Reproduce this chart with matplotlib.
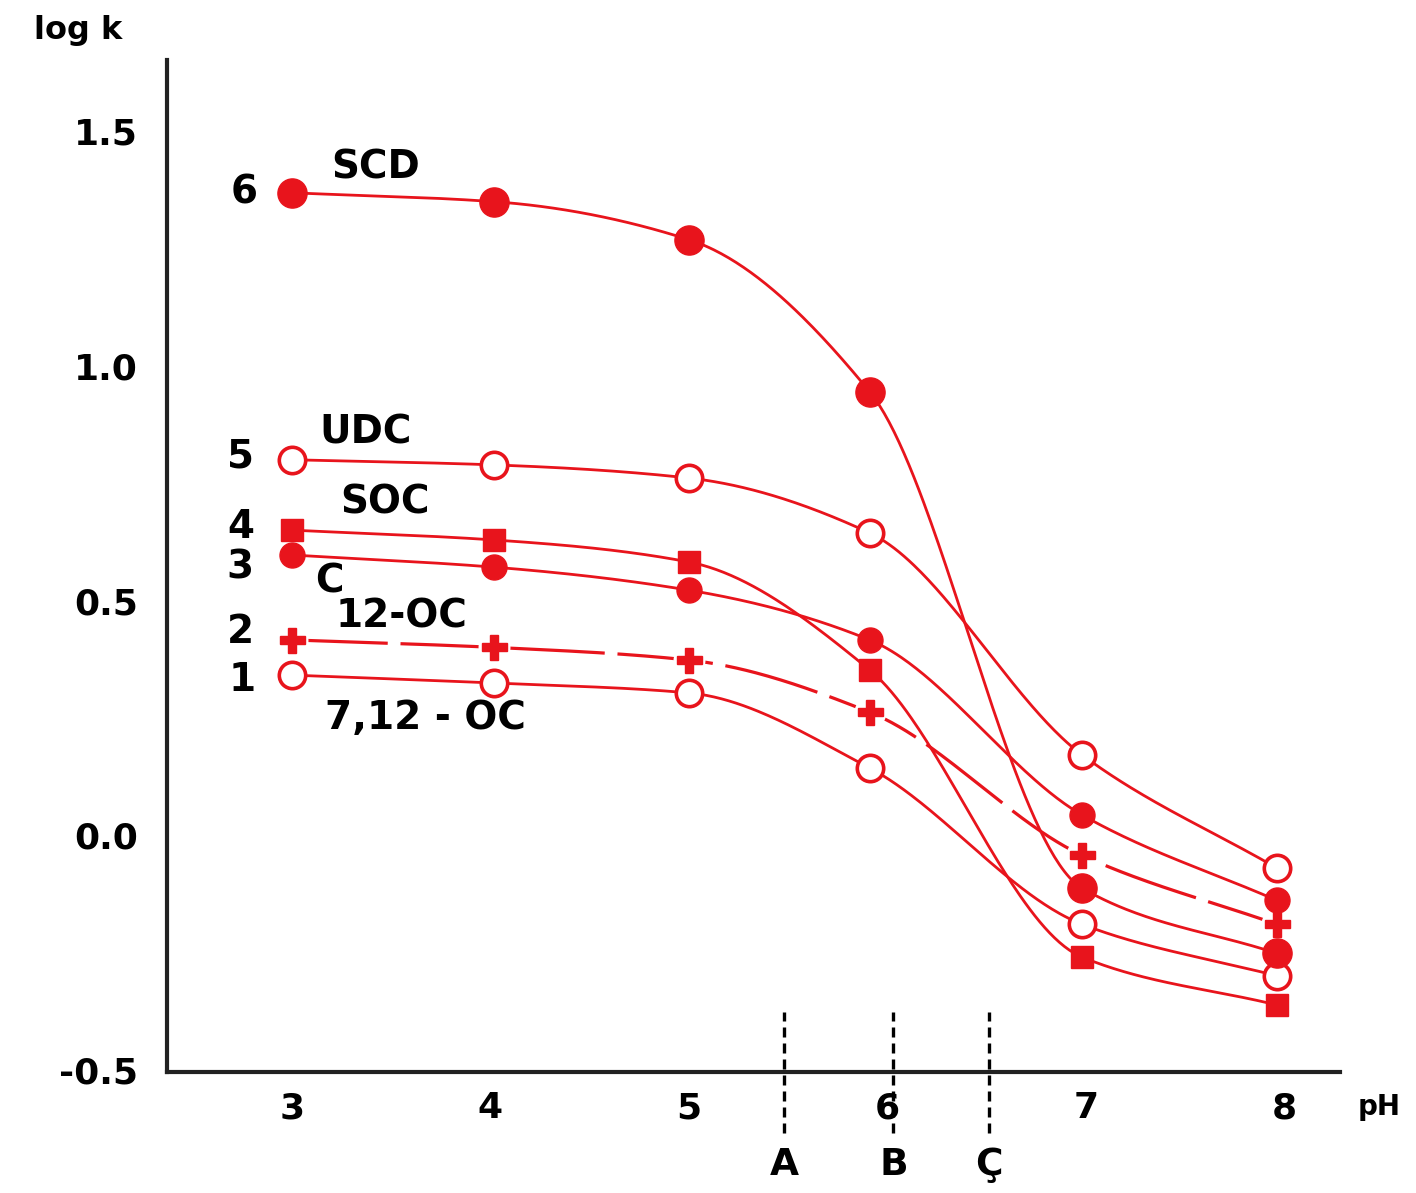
import numpy as np
import matplotlib
matplotlib.use("Agg")
import matplotlib.pyplot as plt

plt.rcParams['font.family'] = ['DejaVu Sans']
plt.rcParams['font.weight'] = 'bold'

# ---- data ----
ph = [3.0, 4.02, 5.0, 5.91, 6.98, 7.96]
s1_712oc = [0.341, 0.324, 0.303, 0.143, -0.19, -0.30]
s2_12oc = [0.416, 0.400, 0.373, 0.262, -0.043, -0.19]
s3_c = [0.597, 0.571, 0.522, 0.416, 0.043, -0.139]
s4_soc = [0.650, 0.629, 0.582, 0.352, -0.26, -0.362]
s5_udc = [0.800, 0.789, 0.761, 0.644, 0.171, -0.07]
s6_scd = [1.369, 1.350, 1.269, 0.945, -0.113, -0.252]

xticks = [3, 4, 5, 6, 7, 8]
yticks = [-0.5, 0.0, 0.5, 1.0, 1.5]
ytick_labels = ['-0.5', '0.0', '0.5', '1.0', '1.5']
ref_ph = [5.48, 6.03, 6.51]
ref_labels = ['A', 'B', 'Ç']

RED = '#e8141c'


def pchip(x, y, xs):
    x = np.asarray(x, float)
    y = np.asarray(y, float)
    h = np.diff(x)
    d = np.diff(y) / h
    n = len(x)
    m = np.zeros(n)
    for k in range(1, n - 1):
        if d[k - 1] * d[k] <= 0:
            m[k] = 0
        else:
            w1 = 2 * h[k] + h[k - 1]
            w2 = h[k] + 2 * h[k - 1]
            m[k] = (w1 + w2) / (w1 / d[k - 1] + w2 / d[k])
    m[0] = d[0]
    m[-1] = d[-1]
    out = np.empty_like(xs)
    for i, xv in enumerate(xs):
        k = min(max(np.searchsorted(x, xv) - 1, 0), n - 2)
        t = (xv - x[k]) / h[k]
        h00 = 2 * t**3 - 3 * t**2 + 1
        h10 = t**3 - 2 * t**2 + t
        h01 = -2 * t**3 + 3 * t**2
        h11 = t**3 - t**2
        out[i] = h00 * y[k] + h10 * h[k] * m[k] + h01 * y[k + 1] + h11 * h[k] * m[k + 1]
    return out


fig = plt.figure(figsize=(14.16, 11.93), dpi=100)
ax = fig.add_axes([0.118, 0.1014, 0.828, 0.8483])
ax.set_xlim(2.371, 8.277)
ax.set_ylim(-0.505, 1.652)

xs = np.linspace(ph[0], ph[-1], 400)
lw = 2.0

series = [
    (s1_712oc, dict(marker='o', mfc='white', ms=19, mew=2.6)),
    (s3_c, dict(marker='o', mfc=RED, ms=18, mew=1)),
    (s4_soc, dict(marker='s', mfc=RED, ms=16, mew=1)),
    (s5_udc, dict(marker='o', mfc='white', ms=19, mew=2.6)),
    (s6_scd, dict(marker='o', mfc=RED, ms=21, mew=1)),
]
for ys, mk in series:
    ax.plot(xs, pchip(ph, ys, xs), color=RED, lw=lw, zorder=2)
    ax.plot(ph, ys, linestyle='none', color=RED, mec=RED, zorder=4, **mk)

# series 2 : long-dash line with gaps around the plus markers
ax.plot(xs, pchip(ph, s2_12oc, xs), color=RED, lw=lw + 0.3, linestyle=(0, (30, 4)), zorder=2)
ax.plot(ph, s2_12oc, linestyle='none', marker='o', ms=22, mfc='white', mec='white', zorder=3)
ax.plot(ph, s2_12oc, linestyle='none', marker='P', ms=18, mfc=RED, mec=RED, zorder=4)

# reference dashed lines A, B, C
for xv, lab in zip(ref_ph, ref_labels):
    ax.plot([xv, xv], [-0.635, -0.378], color='black', lw=2.4, linestyle=(0, (3, 1.8)),
            clip_on=False, zorder=5)
    ax.text(xv, -0.704, lab, ha='center', va='center', fontsize=27, fontweight='bold',
            clip_on=False)

# curve labels
fs = 28
labels = [
    ('6', 2.76, 1.369), ('SCD', 3.42, 1.422),
    ('5', 2.74, 0.806), ('UDC', 3.37, 0.859),
    ('4', 2.74, 0.656), ('SOC', 3.47, 0.708),
    ('3', 2.74, 0.571), ('C', 3.19, 0.541),
    ('2', 2.74, 0.432), ('12-OC', 3.55, 0.465),
    ('1', 2.75, 0.331), ('7,12 - OC', 3.67, 0.25),
]
for t, xv, yv in labels:
    ax.text(xv, yv, t, ha='center', va='center', fontsize=fs, fontweight='bold', zorder=6)

# axes styling
for sp in ['top', 'right']:
    ax.spines[sp].set_visible(False)
for sp in ['left', 'bottom']:
    ax.spines[sp].set_linewidth(3)
    ax.spines[sp].set_color('#222222')
ax.set_xticks(xticks)
ax.set_xticklabels([str(v) for v in xticks])
ax.set_yticks(yticks)
ax.set_yticklabels(ytick_labels)
ax.tick_params(axis='both', length=0, labelsize=26)
ax.tick_params(axis='x', pad=14)
ax.tick_params(axis='y', pad=21)
for lab in ax.get_xticklabels() + ax.get_yticklabels():
    lab.set_fontweight('bold')

ax.text(8.478, -0.58, 'pH', ha='center', va='center', fontsize=20, fontweight='bold',
        clip_on=False)
fig.text(78 / 1416, 1 - 30 / 1193, 'log k', ha='center', va='center', fontsize=23,
         fontweight='bold')

fig.savefig('out.png', dpi=100, facecolor='white')
